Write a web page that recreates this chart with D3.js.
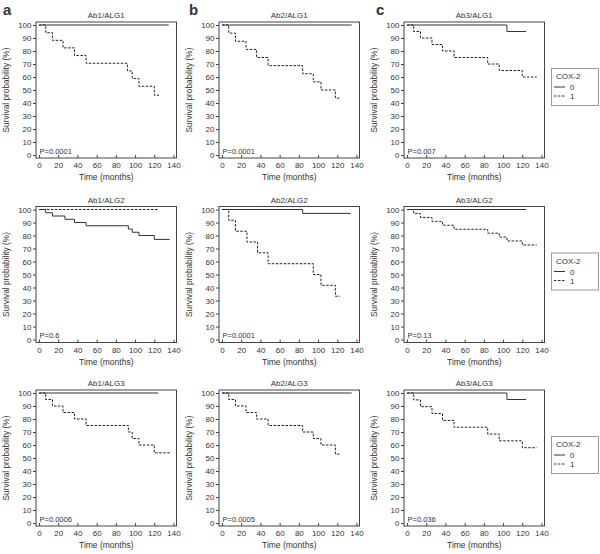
<!DOCTYPE html>
<html><head><meta charset="utf-8">
<script src="https://cdn.jsdelivr.net/npm/d3@7"></script>
<style>
body{margin:0;background:#fff;}
text{font-family:"Liberation Sans",Arial,sans-serif;fill:#333;}
</style></head>
<body>
<svg id="c" width="600" height="554"></svg>
<script>
// ---------------- data ----------------
const panelTitles = ["Ab1/ALG1","Ab2/ALG1","Ab3/ALG1",
                     "Ab1/ALG2","Ab2/ALG2","Ab3/ALG2",
                     "Ab1/ALG3","Ab2/ALG3","Ab3/ALG3"];
const pValues = ["P=0.0001","P=0.0001","P=0.007",
                 "P=0.6","P=0.0001","P=0.13",
                 "P=0.0006","P=0.0005","P=0.036"];
const columnLetters = ["a","b","c"];
const xTicks = [0,20,40,60,80,100,120,140];
const yTicks = [0,10,20,30,40,50,60,70,80,90,100];
const legendTitle = "COX-2";
const legendLabels = ["0","1"];

// COX-2 = 0 (solid) : times (months) and survival (%) from each time onward
const cox0Time = [
  [0,135],
  [0,135],
  [0,104,124],
  [0,7,14,27,37,49,93,97,104,120,136],
  [0,84,134],
  [0,124],
  [0,124],
  [0,135],
  [0,104,124]
];
const cox0Surv = [
  [100,100],
  [100,100],
  [100,95,95],
  [100,97.5,95,92.5,90,87.5,85,82.5,80,77,77],
  [100,97,97],
  [100,100],
  [100,100],
  [100,100],
  [100,95,95]
];
// COX-2 = 1 (dashed)
const cox1Time = [
  [0,7,14,25,37,49,92,97,104,120,125],
  [0,7,14,25,36,48,84,95,103,118,123],
  [0,7,14,26,37,49,84,96,120,135],
  [0,124],
  [0,7,14,26,37,48,95,103,118,123],
  [0,7,14,26,37,49,84,96,104,120,135],
  [0,7,14,25,37,49,93,97,104,120,136],
  [0,7,14,25,36,48,84,95,103,118,123],
  [0,7,14,26,37,49,84,96,120,135]
];
const cox1Surv = [
  [100,94.1,88.2,82.4,76.5,70.6,64.7,58.8,52.9,46,46],
  [100,93.75,87.5,81.25,75,68.75,62.5,56.25,50,43.75,43.75],
  [100,95,90,85,80,75,70,65,60,60],
  [100,100],
  [100,91.7,83.3,75,66.7,58.3,50,41.7,33.3,33.3],
  [100,97,93.9,90.9,87.9,84.8,81.8,78.8,75.8,72.7,72.7],
  [100,95,90,85,80,75,70,65,60,54,54],
  [100,95,90,85,80,75,70,65,60,53,53],
  [100,94.7,89.5,84.2,78.9,73.7,68.4,63.2,57.9,57.9]
];

// ---------------- layout ----------------
const colX0 = [39, 222, 407];
const rowY100 = [25, 209.5, 393];
const plotW = 134.5, plotH = 130;
const svg = d3.select("#c");

const stepLine = (xs, ys) => d3.line().x(d=>xs(d[0])).y(d=>ys(d[1])).curve(d3.curveStepAfter);

for (let i = 0; i < 9; i++) {
  const r = Math.floor(i/3), c = i % 3;
  const x0 = colX0[c], y100 = rowY100[r], y0 = y100 + plotH;
  const xs = d3.scaleLinear().domain([0,140]).range([x0, x0+plotW]);
  const ys = d3.scaleLinear().domain([0,100]).range([y0, y100]);
  const g = svg.append("g");

  const fl = x0 - 3, fr = x0 + plotW + 3, ft = y100 - 3, fb = y0 + 3;
  // frame
  g.append("rect").attr("x", fl).attr("y", ft).attr("width", fr-fl).attr("height", fb-ft)
    .attr("fill","none").attr("stroke","#444").attr("stroke-width",1);

  // y axis (ticks outward, no domain line)
  const ya = d3.axisLeft(ys).tickValues(yTicks).tickSize(3).tickPadding(1.5);
  const yg = g.append("g").attr("transform",`translate(${fl},0)`).call(ya);
  yg.select(".domain").remove();
  yg.selectAll("line").attr("stroke","#444");
  yg.selectAll("text").style("font-size","8px").attr("fill","#333")
    .style("font-family",'"Liberation Sans",Arial,sans-serif');

  // x axis (ticks inward)
  const xa = d3.axisBottom(xs).tickValues(xTicks).tickSize(-3).tickPadding(0);
  const xg = g.append("g").attr("transform",`translate(0,${fb})`).call(xa);
  xg.select(".domain").remove();
  xg.selectAll("line").attr("stroke","#444");
  xg.selectAll("text").attr("y", y0 + 13 - fb).attr("dy", null)
    .style("font-size","8px").attr("fill","#333")
    .style("font-family",'"Liberation Sans",Arial,sans-serif');

  // titles
  g.append("text").attr("x", x0 + plotW/2).attr("y", y100 - 7).attr("text-anchor","middle")
    .style("font-size","8px").text(panelTitles[i]);
  g.append("text").attr("x", x0 + plotW/2).attr("y", y0 + 25).attr("text-anchor","middle")
    .style("font-size","8.5px").text("Time (months)");
  g.append("text").attr("transform",`translate(${x0-30},${(y0+y100)/2}) rotate(-90)`)
    .attr("text-anchor","middle").style("font-size","8.3px").text("Survival probability (%)");
  g.append("text").attr("x", x0 + 0.5).attr("y", y0 - 1.5).style("font-size","7.5px").text(pValues[i]);

  // curves
  const d0 = cox0Time[i].map((t,k)=>[t, cox0Surv[i][k]]);
  const d1 = cox1Time[i].map((t,k)=>[t, cox1Surv[i][k]]);
  g.append("path").attr("d", stepLine(xs,ys)(d0)).attr("fill","none")
    .attr("stroke","#333").attr("stroke-width",1);
  g.append("path").attr("d", stepLine(xs,ys)(d1)).attr("fill","none")
    .attr("stroke","#222").attr("stroke-width",1).attr("stroke-dasharray","2.5,1.5");

  if (r === 0) {
    svg.append("text").attr("x", x0 - 37 + (c===0?1:c===1?4:6)).attr("y", 15)
      .style("font-size","15px").style("font-weight","bold").attr("fill","#111").text(columnLetters[c]);
  }
  if (c === 2) {
    const lx = 551, ly = y100 + 43;
    const lg = svg.append("g");
    lg.append("rect").attr("x", lx+0.5).attr("y", ly+0.5).attr("width", 47).attr("height", 37)
      .attr("fill","#fff").attr("stroke","#999");
    lg.append("text").attr("x", lx+5).attr("y", ly+11).style("font-size","8px").text(legendTitle);
    legendLabels.forEach((lab,k)=>{
      const yy = ly + 19 + k*9;
      lg.append("line").attr("x1", lx+3).attr("x2", lx+14).attr("y1", yy).attr("y2", yy)
        .attr("stroke","#333").attr("stroke-width",1)
        .attr("stroke-dasharray", k===1 ? "2.5,1.5" : null);
      lg.append("text").attr("x", lx+19).attr("y", yy+3).style("font-size","8px").text(lab);
    });
  }
}
</script>
</body></html>
